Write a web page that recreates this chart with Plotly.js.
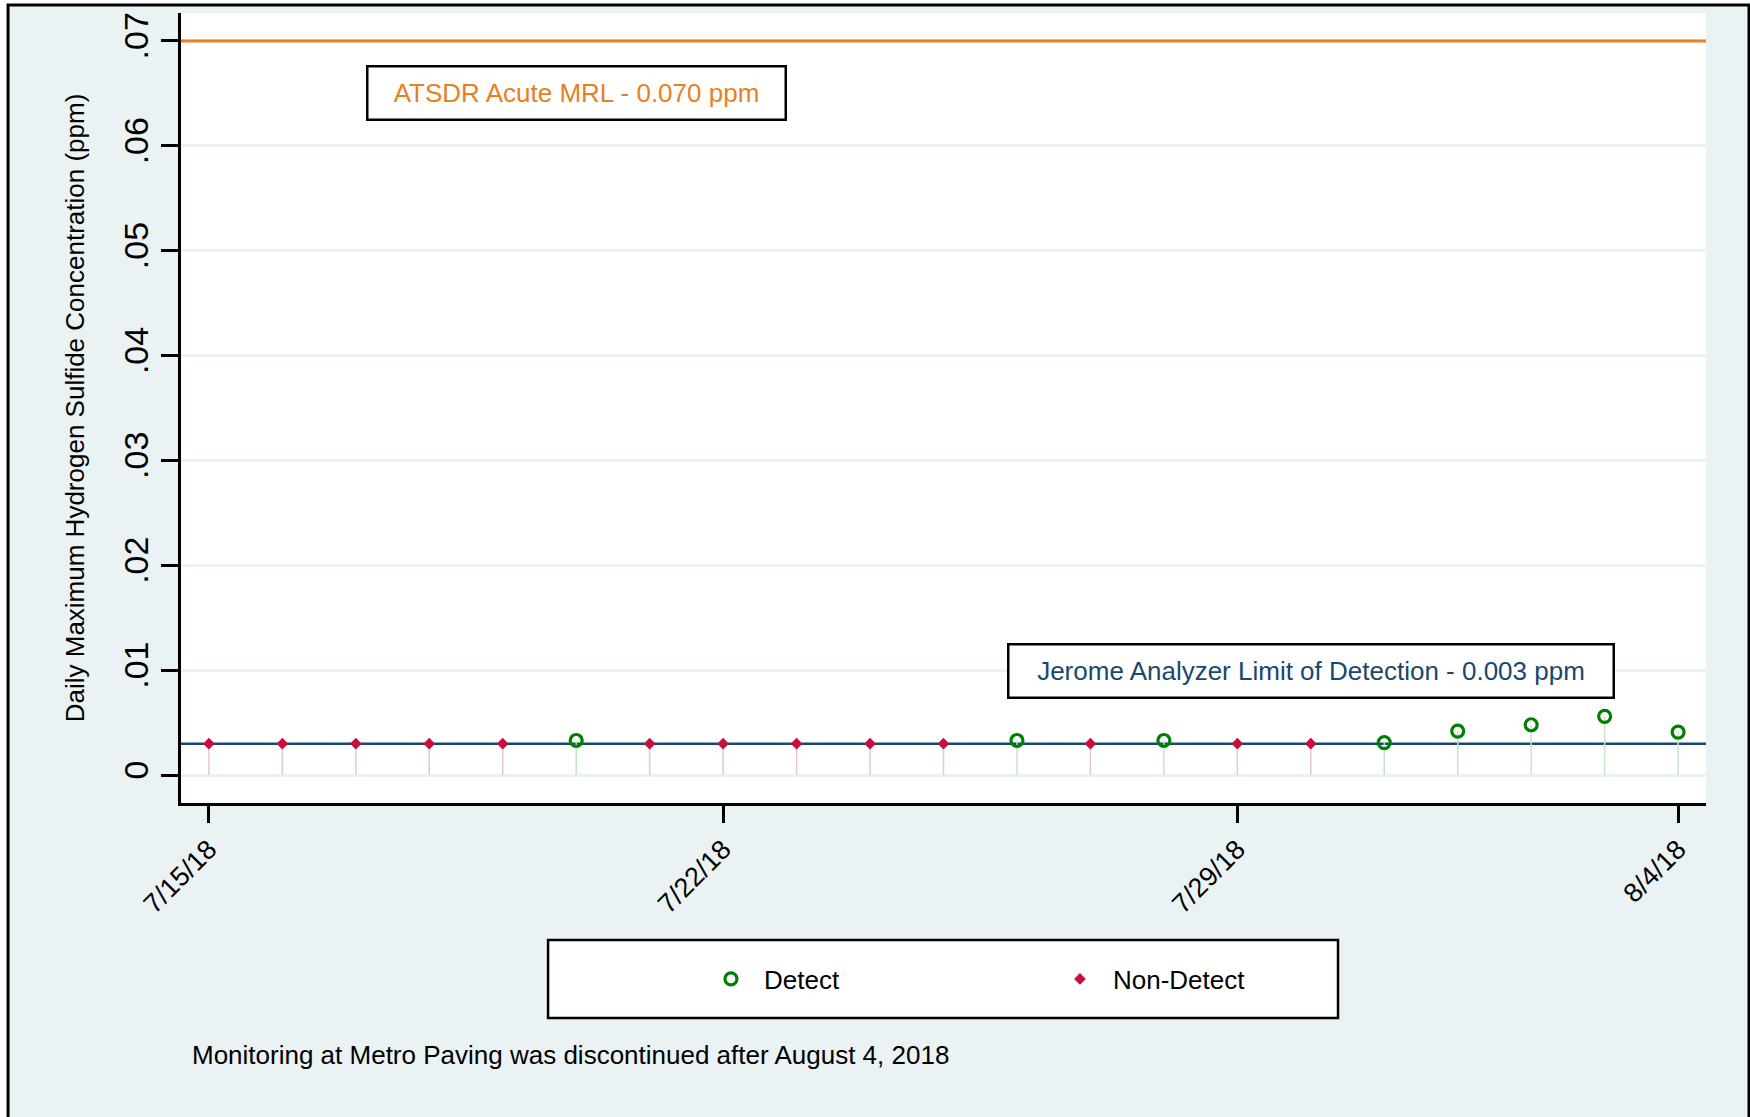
<!DOCTYPE html>
<html>
<head>
<meta charset="utf-8">
<script src="https://cdn.plot.ly/plotly-3.0.1.min.js"></script>
<style>
  html, body { margin: 0; padding: 0; background: #ffffff; }
  #chart { width: 1750px; height: 1117px; }
</style>
</head>
<body>
<div id="chart"></div>
<script>
// ---- Data ----
const detectDates = ['2018-07-20', '2018-07-26', '2018-07-28', '2018-07-31', '2018-08-01', '2018-08-02', '2018-08-03', '2018-08-04'];
const detectValues = [0.0033, 0.0033, 0.0033, 0.0031, 0.0042, 0.0048, 0.0056, 0.0041];

const nonDetectDates = ['2018-07-15', '2018-07-16', '2018-07-17', '2018-07-18', '2018-07-19', '2018-07-21', '2018-07-22', '2018-07-23', '2018-07-24', '2018-07-25', '2018-07-27', '2018-07-29', '2018-07-30'];
const nonDetectValues = [0.003, 0.003, 0.003, 0.003, 0.003, 0.003, 0.003, 0.003, 0.003, 0.003, 0.003, 0.003, 0.003];

const mrlValue = 0.070;   // ATSDR Acute MRL
const lodValue = 0.003;   // Jerome Analyzer limit of detection

const xRange = ['2018-07-14 14:53', '2018-08-04 09:07'];
const yRange = [-0.00266, 0.07266];

const xTickDates = ['2018-07-15', '2018-07-22', '2018-07-29', '2018-08-04'];
const xTickLabels = ['7/15/18', '7/22/18', '7/29/18', '8/4/18'];
const yTickVals = [0, 0.01, 0.02, 0.03, 0.04, 0.05, 0.06, 0.07];
const yTickLabels = ['0', '.01', '.02', '.03', '.04', '.05', '.06', '.07'];

const mrlLabel = 'ATSDR Acute MRL - 0.070 ppm';
const lodLabel = 'Jerome Analyzer Limit of Detection - 0.003 ppm';
const noteText = 'Monitoring at Metro Paving was discontinued after August 4, 2018';

// ---- Styles ----
const FONT = '"Liberation Sans", Arial, Helvetica, sans-serif';
const BG = '#eaf2f3';
const ORANGE = '#e8801e';
const NAVY = '#1a476f';
const GREEN = '#008000';
const CRIMSON = '#c8103e';

const traces = [
  {
    type: 'scatter', mode: 'lines', name: 'ATSDR Acute MRL',
    x: xRange, y: [mrlValue, mrlValue],
    line: { color: ORANGE, width: 3 },
    showlegend: false, hoverinfo: 'skip', cliponaxis: true
  },
  {
    type: 'scatter', mode: 'lines', name: 'Limit of Detection',
    x: xRange, y: [lodValue, lodValue],
    line: { color: NAVY, width: 2.5 },
    showlegend: false, hoverinfo: 'skip', cliponaxis: true
  },
  {
    type: 'scatter',
    mode: 'markers',
    name: 'Detect',
    x: detectDates,
    y: detectValues,
    marker: { symbol: 'circle-open', size: 12, color: GREEN, line: { width: 3.2, color: GREEN } },
    error_y: {
      type: 'data', symmetric: false,
      array: detectValues.map(() => 0),
      arrayminus: detectValues,
      width: 0, thickness: 1.5, color: '#c6e4c6'
    },
    hoverinfo: 'x+y'
  },
  {
    type: 'scatter',
    mode: 'markers',
    name: 'Non-Detect',
    x: nonDetectDates,
    y: nonDetectValues,
    marker: { symbol: 'diamond', size: 9, color: CRIMSON, line: { width: 0 } },
    error_y: {
      type: 'data', symmetric: false,
      array: nonDetectValues.map(() => 0),
      arrayminus: nonDetectValues,
      width: 0, thickness: 1.5, color: '#e8c6cf'
    },
    hoverinfo: 'x+y'
  }
];

const layout = {
  width: 1750,
  height: 1117,
  margin: { l: 181, r: 44, t: 13, b: 314, pad: 0 },
  paper_bgcolor: '#ffffff',
  plot_bgcolor: '#ffffff',
  font: { family: FONT, color: '#000000', size: 26 },
  showlegend: true,
  xaxis: {
    type: 'date',
    range: xRange,
    tickmode: 'array',
    tickvals: xTickDates,
    ticktext: xTickLabels,
    tickangle: -45,
    tickfont: { size: 27, family: FONT, color: '#000' },
    ticks: 'outside', ticklen: 17, tickwidth: 2.5, tickcolor: '#000',
    showgrid: false, zeroline: false,
    showline: true, linecolor: '#000', linewidth: 2.5, mirror: false,
    fixedrange: true
  },
  yaxis: {
    range: yRange,
    tickmode: 'array',
    tickvals: yTickVals,
    ticktext: yTickLabels,
    tickangle: -90,
    tickfont: { size: 34, family: FONT, color: '#000' },
    ticks: 'outside', ticklen: 17, tickwidth: 2.5, tickcolor: '#000',
    ticklabelstandoff: 0,
    showgrid: true, gridcolor: BG, gridwidth: 3,
    zeroline: false,
    showline: true, linecolor: '#000', linewidth: 2.5, mirror: false,
    title: { text: 'Daily Maximum Hydrogen Sulfide Concentration (ppm)', font: { size: 26, family: FONT, color: '#000' }, standoff: 25 },
    fixedrange: true
  },
  legend: {
    orientation: 'h',
    x: 0.339, xanchor: 'left',
    y: -0.2228, yanchor: 'middle',
    itemwidth: 56,
    entrywidth: 278, entrywidthmode: 'pixels',
    bgcolor: 'rgba(0,0,0,0)', borderwidth: 0,
    font: { size: 26, family: FONT, color: '#000' },
    traceorder: 'normal'
  },
  shapes: [
    // graph region background with frame
    { type: 'rect', xref: 'paper', yref: 'paper', x0: -0.1134, x1: 1.0282, y0: -0.41, y1: 1.0101,
      fillcolor: BG, line: { color: '#000', width: 3 }, layer: 'below' },
    // white plot region
    { type: 'rect', xref: 'paper', yref: 'paper', x0: 0, x1: 1, y0: 0, y1: 1,
      fillcolor: '#ffffff', line: { width: 0 }, layer: 'below' },
    // legend box
    { type: 'rect', xref: 'paper', yref: 'paper', x0: 0.2407, x1: 0.7587, y0: -0.2722, y1: -0.1734,
      fillcolor: '#ffffff', line: { color: '#000', width: 2.5 }, layer: 'below' }
  ],
  annotations: [
    { x: '2018-07-20', y: 0.065, xref: 'x', yref: 'y', text: mrlLabel, showarrow: false,
      font: { size: 26, family: FONT, color: ORANGE },
      bgcolor: '#ffffff', bordercolor: '#000', borderwidth: 2.5, borderpad: 1,
      width: 414, height: 49, align: 'center', valign: 'middle' },
    { x: '2018-07-30', y: 0.0099, xref: 'x', yref: 'y', text: lodLabel, showarrow: false,
      font: { size: 26, family: FONT, color: NAVY },
      bgcolor: '#ffffff', bordercolor: '#000', borderwidth: 2.5, borderpad: 1,
      width: 601, height: 49, align: 'center', valign: 'middle' },
    { x: 0.0059, y: -0.319, xref: 'paper', yref: 'paper', xanchor: 'left', yanchor: 'middle',
      text: noteText, showarrow: false,
      font: { size: 26, family: FONT, color: '#000' } }
  ]
};

Plotly.newPlot('chart', traces, layout, { displayModeBar: false });
</script>
</body>
</html>
